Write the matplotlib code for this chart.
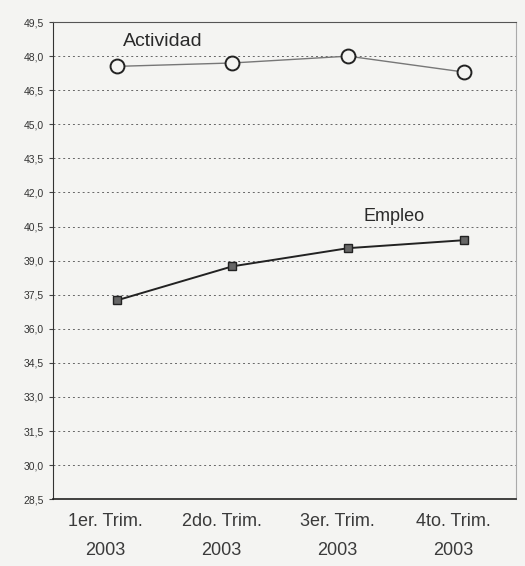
import matplotlib
matplotlib.use("Agg")
import matplotlib.pyplot as plt
import matplotlib.transforms as mtransforms

plt.rcParams['font.family'] = ['Liberation Sans', 'DejaVu Sans']

# data
trimestres = ["1er. Trim.\n2003", "2do. Trim.\n2003", "3er. Trim.\n2003", "4to. Trim.\n2003"]
actividad = [47.55, 47.7, 48.0, 47.3]
empleo = [37.25, 38.75, 39.55, 39.9]
yticks = [28.5, 30.0, 31.5, 33.0, 34.5, 36.0, 37.5, 39.0, 40.5, 42.0, 43.5, 45.0, 46.5, 48.0, 49.5]

fig = plt.figure(figsize=(5.25, 5.66), dpi=100)
fig.patch.set_facecolor("#f4f4f2")
ax = fig.add_axes([0.101, 0.118, 0.882, 0.843])
ax.set_facecolor("#f4f4f2")

x = range(len(trimestres))
ax.plot(x, actividad, color="#777777", lw=1.0, marker="o", ms=10,
        mfc="#f4f4f2", mec="#222222", mew=1.4, zorder=3)
ax.plot(x, empleo, color="#222222", lw=1.4, marker="s", ms=6,
        mfc="#666666", mec="#222222", mew=1.0, zorder=3)

ax.set_xlim(-0.55, 3.45)
ax.set_ylim(28.5, 49.5)
ax.set_yticks(yticks)
ax.set_yticklabels([f"{v:.1f}".replace(".", ",") for v in yticks], fontsize=7.5, color="#333333")
ax.set_xticks(list(x))
ax.set_xticklabels(trimestres, fontsize=13, color="#3a3a3a", linespacing=1.95)
ax.tick_params(axis="x", length=0, pad=10)
ax.tick_params(axis="y", length=3, direction="out", color="#444444")
# labels in the scan sit a little left of the points
shift = mtransforms.ScaledTranslation(-11 / 100, 0, fig.dpi_scale_trans)
for lbl in ax.get_xticklabels():
    lbl.set_transform(lbl.get_transform() + shift)

ax.yaxis.grid(True, linestyle=(0, (2, 3)), color="#666666", lw=0.7)
for sp in ax.spines.values():
    sp.set_color("#555555")
    sp.set_linewidth(0.8)
ax.spines["left"].set_color("#333333")
ax.spines["bottom"].set_color("#222222")
ax.spines["bottom"].set_linewidth(1.2)
ax.spines["right"].set_color("#aaaaaa")

ax.text(0.05, 48.45, "Actividad", fontsize=14, color="#2a2a2a")
ax.text(2.13, 40.75, "Empleo", fontsize=13, color="#2a2a2a")

fig.savefig("out.png", dpi=100, facecolor=fig.get_facecolor())
